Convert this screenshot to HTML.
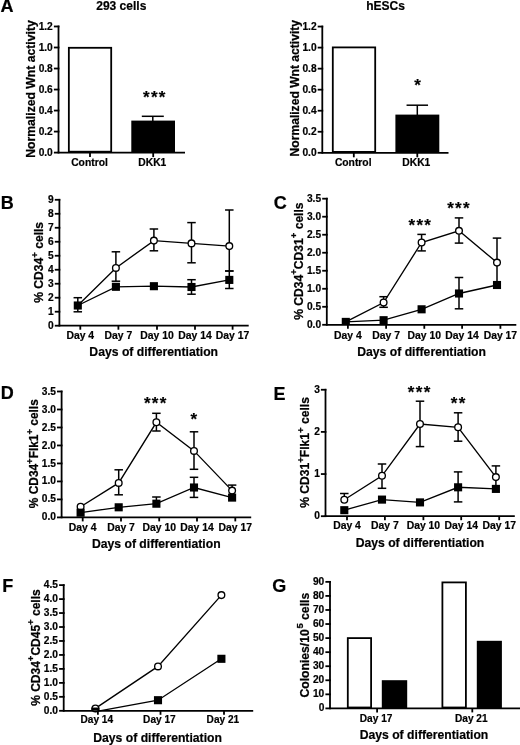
<!DOCTYPE html>
<html><head><meta charset="utf-8"><title>Figure</title>
<style>
html,body{margin:0;padding:0;background:#fff;}
body{width:520px;height:745px;overflow:hidden;}
svg{display:block;filter:blur(0.3px);}
text{font-family:"Liberation Sans", sans-serif;fill:#000;stroke:#000;stroke-width:0.2px;}
.tl{stroke:#000;stroke-width:0.2px;}
.yl{stroke:#000;stroke-width:0.25px;}
</style></head>
<body>
<svg width="520" height="745" viewBox="0 0 520 745" stroke="#000" fill="#000">
<rect x="0" y="0" width="520" height="745" fill="#fff" stroke="none"/>
<text x="0.4" y="12.3" font-size="18" text-anchor="start" font-weight="bold" >A</text>
<text x="0.85" y="209.3" font-size="18" text-anchor="start" font-weight="bold" >B</text>
<text x="273.8" y="209.2" font-size="18" text-anchor="start" font-weight="bold" >C</text>
<text x="0.85" y="398.9" font-size="18" text-anchor="start" font-weight="bold" >D</text>
<text x="273.6" y="399.6" font-size="18" text-anchor="start" font-weight="bold" >E</text>
<text x="2.2" y="592.2" font-size="18" text-anchor="start" font-weight="bold" >F</text>
<text x="272.2" y="591.8" font-size="18" text-anchor="start" font-weight="bold" >G</text>
<text x="121.3" y="9.9" font-size="12" text-anchor="middle" font-weight="bold" >293 cells</text>
<line x1="58.5" y1="25.58" x2="58.5" y2="152.6" stroke-width="1.8" stroke-linecap="butt"/>
<line x1="53.9" y1="152.6" x2="59.4" y2="152.6" stroke-width="1.8" stroke-linecap="butt"/>
<text x="52.8" y="155.66" font-size="10.2" text-anchor="end" font-weight="bold" class="tl">0.0</text>
<line x1="53.9" y1="131.58" x2="59.4" y2="131.58" stroke-width="1.8" stroke-linecap="butt"/>
<text x="52.8" y="134.64" font-size="10.2" text-anchor="end" font-weight="bold" class="tl">0.2</text>
<line x1="53.9" y1="110.56" x2="59.4" y2="110.56" stroke-width="1.8" stroke-linecap="butt"/>
<text x="52.8" y="113.62" font-size="10.2" text-anchor="end" font-weight="bold" class="tl">0.4</text>
<line x1="53.9" y1="89.54" x2="59.4" y2="89.54" stroke-width="1.8" stroke-linecap="butt"/>
<text x="52.8" y="92.6" font-size="10.2" text-anchor="end" font-weight="bold" class="tl">0.6</text>
<line x1="53.9" y1="68.52" x2="59.4" y2="68.52" stroke-width="1.8" stroke-linecap="butt"/>
<text x="52.8" y="71.58" font-size="10.2" text-anchor="end" font-weight="bold" class="tl">0.8</text>
<line x1="53.9" y1="47.5" x2="59.4" y2="47.5" stroke-width="1.8" stroke-linecap="butt"/>
<text x="52.8" y="50.56" font-size="10.2" text-anchor="end" font-weight="bold" class="tl">1.0</text>
<line x1="53.9" y1="26.48" x2="59.4" y2="26.48" stroke-width="1.8" stroke-linecap="butt"/>
<text x="52.8" y="29.54" font-size="10.2" text-anchor="end" font-weight="bold" class="tl">1.2</text>
<rect x="68.85" y="47.8" width="42.35" height="103.9" fill="#fff" stroke-width="1.8"/>
<rect x="131.3" y="120.6" width="43.7" height="32" fill="#000" stroke="none"/>
<line x1="152.8" y1="121" x2="152.8" y2="116.3" stroke-width="1.5" stroke-linecap="butt"/>
<line x1="141.8" y1="116.3" x2="163.8" y2="116.3" stroke-width="1.5" stroke-linecap="butt"/>
<line x1="57.6" y1="152.6" x2="185" y2="152.6" stroke-width="1.8" stroke-linecap="butt"/>
<line x1="90" y1="152.6" x2="90" y2="157.1" stroke-width="1.8" stroke-linecap="butt"/>
<line x1="153.2" y1="152.6" x2="153.2" y2="157.1" stroke-width="1.8" stroke-linecap="butt"/>
<text x="89.5" y="165.6" font-size="10.3" text-anchor="middle" font-weight="bold" class="tl">Control</text>
<text x="152.3" y="165.6" font-size="10.3" text-anchor="middle" font-weight="bold" class="tl">DKK1</text>
<text x="146.3" y="103.33" font-size="17" text-anchor="middle" font-weight="bold" >*</text>
<text x="154.2" y="103.33" font-size="17" text-anchor="middle" font-weight="bold" >*</text>
<text x="162.1" y="103.33" font-size="17" text-anchor="middle" font-weight="bold" >*</text>
<text class="yl" transform="translate(35.1,89) rotate(-90)" x="0" y="0" font-size="12.2" text-anchor="middle" font-weight="bold" >Normalized Wnt activity</text>
<text x="385.5" y="9.9" font-size="12" text-anchor="middle" font-weight="bold" >hESCs</text>
<line x1="322.3" y1="25.66" x2="322.3" y2="152.8" stroke-width="1.8" stroke-linecap="butt"/>
<line x1="317.7" y1="152.8" x2="323.2" y2="152.8" stroke-width="1.8" stroke-linecap="butt"/>
<text x="316.6" y="155.86" font-size="10.2" text-anchor="end" font-weight="bold" class="tl">0.0</text>
<line x1="317.7" y1="131.76" x2="323.2" y2="131.76" stroke-width="1.8" stroke-linecap="butt"/>
<text x="316.6" y="134.82" font-size="10.2" text-anchor="end" font-weight="bold" class="tl">0.2</text>
<line x1="317.7" y1="110.72" x2="323.2" y2="110.72" stroke-width="1.8" stroke-linecap="butt"/>
<text x="316.6" y="113.78" font-size="10.2" text-anchor="end" font-weight="bold" class="tl">0.4</text>
<line x1="317.7" y1="89.68" x2="323.2" y2="89.68" stroke-width="1.8" stroke-linecap="butt"/>
<text x="316.6" y="92.74" font-size="10.2" text-anchor="end" font-weight="bold" class="tl">0.6</text>
<line x1="317.7" y1="68.64" x2="323.2" y2="68.64" stroke-width="1.8" stroke-linecap="butt"/>
<text x="316.6" y="71.7" font-size="10.2" text-anchor="end" font-weight="bold" class="tl">0.8</text>
<line x1="317.7" y1="47.6" x2="323.2" y2="47.6" stroke-width="1.8" stroke-linecap="butt"/>
<text x="316.6" y="50.66" font-size="10.2" text-anchor="end" font-weight="bold" class="tl">1.0</text>
<line x1="317.7" y1="26.56" x2="323.2" y2="26.56" stroke-width="1.8" stroke-linecap="butt"/>
<text x="316.6" y="29.62" font-size="10.2" text-anchor="end" font-weight="bold" class="tl">1.2</text>
<rect x="332.8" y="47.4" width="42.4" height="104.5" fill="#fff" stroke-width="1.8"/>
<rect x="395.4" y="114.6" width="43.9" height="38.2" fill="#000" stroke="none"/>
<line x1="417.3" y1="115" x2="417.3" y2="105.2" stroke-width="1.5" stroke-linecap="butt"/>
<line x1="406.55" y1="105.2" x2="428.05" y2="105.2" stroke-width="1.5" stroke-linecap="butt"/>
<line x1="321.4" y1="152.8" x2="448.5" y2="152.8" stroke-width="1.8" stroke-linecap="butt"/>
<line x1="353.8" y1="152.8" x2="353.8" y2="157.3" stroke-width="1.8" stroke-linecap="butt"/>
<line x1="417.3" y1="152.8" x2="417.3" y2="157.3" stroke-width="1.8" stroke-linecap="butt"/>
<text x="353.2" y="165.6" font-size="10.3" text-anchor="middle" font-weight="bold" class="tl">Control</text>
<text x="416.3" y="165.6" font-size="10.3" text-anchor="middle" font-weight="bold" class="tl">DKK1</text>
<text x="417.6" y="91.43" font-size="17" text-anchor="middle" font-weight="bold" >*</text>
<text class="yl" transform="translate(298.6,88.2) rotate(-90)" x="0" y="0" font-size="12.1" text-anchor="middle" font-weight="bold" >Normalized Wnt activity</text>
<line x1="59.4" y1="198.89" x2="59.4" y2="325.7" stroke-width="1.8" stroke-linecap="butt"/>
<line x1="54.8" y1="325.7" x2="60.3" y2="325.7" stroke-width="1.8" stroke-linecap="butt"/>
<text x="53.7" y="328.76" font-size="10.2" text-anchor="end" font-weight="bold" class="tl">0</text>
<line x1="54.8" y1="311.71" x2="60.3" y2="311.71" stroke-width="1.8" stroke-linecap="butt"/>
<text x="53.7" y="314.77" font-size="10.2" text-anchor="end" font-weight="bold" class="tl">1</text>
<line x1="54.8" y1="297.72" x2="60.3" y2="297.72" stroke-width="1.8" stroke-linecap="butt"/>
<text x="53.7" y="300.78" font-size="10.2" text-anchor="end" font-weight="bold" class="tl">2</text>
<line x1="54.8" y1="283.73" x2="60.3" y2="283.73" stroke-width="1.8" stroke-linecap="butt"/>
<text x="53.7" y="286.79" font-size="10.2" text-anchor="end" font-weight="bold" class="tl">3</text>
<line x1="54.8" y1="269.74" x2="60.3" y2="269.74" stroke-width="1.8" stroke-linecap="butt"/>
<text x="53.7" y="272.8" font-size="10.2" text-anchor="end" font-weight="bold" class="tl">4</text>
<line x1="54.8" y1="255.75" x2="60.3" y2="255.75" stroke-width="1.8" stroke-linecap="butt"/>
<text x="53.7" y="258.81" font-size="10.2" text-anchor="end" font-weight="bold" class="tl">5</text>
<line x1="54.8" y1="241.76" x2="60.3" y2="241.76" stroke-width="1.8" stroke-linecap="butt"/>
<text x="53.7" y="244.82" font-size="10.2" text-anchor="end" font-weight="bold" class="tl">6</text>
<line x1="54.8" y1="227.77" x2="60.3" y2="227.77" stroke-width="1.8" stroke-linecap="butt"/>
<text x="53.7" y="230.83" font-size="10.2" text-anchor="end" font-weight="bold" class="tl">7</text>
<line x1="54.8" y1="213.78" x2="60.3" y2="213.78" stroke-width="1.8" stroke-linecap="butt"/>
<text x="53.7" y="216.84" font-size="10.2" text-anchor="end" font-weight="bold" class="tl">8</text>
<line x1="54.8" y1="199.79" x2="60.3" y2="199.79" stroke-width="1.8" stroke-linecap="butt"/>
<text x="53.7" y="202.85" font-size="10.2" text-anchor="end" font-weight="bold" class="tl">9</text>
<line x1="58.5" y1="325.7" x2="248.7" y2="325.7" stroke-width="1.8" stroke-linecap="butt"/>
<line x1="80.3" y1="325.7" x2="80.3" y2="329.7" stroke-width="1.8" stroke-linecap="butt"/>
<text x="80.3" y="338.8" font-size="10.4" text-anchor="middle" font-weight="bold" class="tl">Day 4</text>
<line x1="118.4" y1="325.7" x2="118.4" y2="329.7" stroke-width="1.8" stroke-linecap="butt"/>
<text x="118.4" y="338.8" font-size="10.4" text-anchor="middle" font-weight="bold" class="tl">Day 7</text>
<line x1="157" y1="325.7" x2="157" y2="329.7" stroke-width="1.8" stroke-linecap="butt"/>
<text x="157" y="338.8" font-size="10.4" text-anchor="middle" font-weight="bold" class="tl">Day 10</text>
<line x1="195" y1="325.7" x2="195" y2="329.7" stroke-width="1.8" stroke-linecap="butt"/>
<text x="195" y="338.8" font-size="10.4" text-anchor="middle" font-weight="bold" class="tl">Day 14</text>
<line x1="232.6" y1="325.7" x2="232.6" y2="329.7" stroke-width="1.8" stroke-linecap="butt"/>
<text x="232.6" y="338.8" font-size="10.4" text-anchor="middle" font-weight="bold" class="tl">Day 17</text>
<line x1="115.9" y1="267.9" x2="115.9" y2="251.8" stroke-width="1.5" stroke-linecap="butt"/>
<line x1="111.65" y1="251.8" x2="120.15" y2="251.8" stroke-width="1.5" stroke-linecap="butt"/>
<line x1="115.9" y1="267.9" x2="115.9" y2="281.2" stroke-width="1.5" stroke-linecap="butt"/>
<line x1="111.65" y1="281.2" x2="120.15" y2="281.2" stroke-width="1.5" stroke-linecap="butt"/>
<line x1="153.9" y1="240.6" x2="153.9" y2="229" stroke-width="1.5" stroke-linecap="butt"/>
<line x1="149.65" y1="229" x2="158.15" y2="229" stroke-width="1.5" stroke-linecap="butt"/>
<line x1="153.9" y1="240.6" x2="153.9" y2="250.8" stroke-width="1.5" stroke-linecap="butt"/>
<line x1="149.65" y1="250.8" x2="158.15" y2="250.8" stroke-width="1.5" stroke-linecap="butt"/>
<line x1="191.5" y1="243.4" x2="191.5" y2="222.6" stroke-width="1.5" stroke-linecap="butt"/>
<line x1="187.25" y1="222.6" x2="195.75" y2="222.6" stroke-width="1.5" stroke-linecap="butt"/>
<line x1="191.5" y1="243.4" x2="191.5" y2="262.8" stroke-width="1.5" stroke-linecap="butt"/>
<line x1="187.25" y1="262.8" x2="195.75" y2="262.8" stroke-width="1.5" stroke-linecap="butt"/>
<line x1="229.3" y1="246.1" x2="229.3" y2="210" stroke-width="1.5" stroke-linecap="butt"/>
<line x1="225.05" y1="210" x2="233.55" y2="210" stroke-width="1.5" stroke-linecap="butt"/>
<line x1="229.3" y1="246.1" x2="229.3" y2="271" stroke-width="1.5" stroke-linecap="butt"/>
<line x1="225.05" y1="271" x2="233.55" y2="271" stroke-width="1.5" stroke-linecap="butt"/>
<line x1="77.8" y1="305.5" x2="77.8" y2="297.7" stroke-width="1.5" stroke-linecap="butt"/>
<line x1="73.55" y1="297.7" x2="82.05" y2="297.7" stroke-width="1.5" stroke-linecap="butt"/>
<line x1="77.8" y1="305.5" x2="77.8" y2="311.8" stroke-width="1.5" stroke-linecap="butt"/>
<line x1="73.55" y1="311.8" x2="82.05" y2="311.8" stroke-width="1.5" stroke-linecap="butt"/>
<line x1="191.5" y1="287" x2="191.5" y2="279.7" stroke-width="1.5" stroke-linecap="butt"/>
<line x1="187.25" y1="279.7" x2="195.75" y2="279.7" stroke-width="1.5" stroke-linecap="butt"/>
<line x1="191.5" y1="287" x2="191.5" y2="294.2" stroke-width="1.5" stroke-linecap="butt"/>
<line x1="187.25" y1="294.2" x2="195.75" y2="294.2" stroke-width="1.5" stroke-linecap="butt"/>
<line x1="229.3" y1="279.9" x2="229.3" y2="271" stroke-width="1.5" stroke-linecap="butt"/>
<line x1="225.05" y1="271" x2="233.55" y2="271" stroke-width="1.5" stroke-linecap="butt"/>
<line x1="229.3" y1="279.9" x2="229.3" y2="288.5" stroke-width="1.5" stroke-linecap="butt"/>
<line x1="225.05" y1="288.5" x2="233.55" y2="288.5" stroke-width="1.5" stroke-linecap="butt"/>
<polyline points="77.8,305.5 115.9,286.8 153.9,286.2 191.5,287 229.3,279.9" fill="none" stroke-width="1.35"/>
<polyline points="77.8,305.5 115.9,267.9 153.9,240.6 191.5,243.4 229.3,246.1" fill="none" stroke-width="1.35"/>
<circle cx="115.9" cy="267.9" r="3.35" fill="#fff" stroke-width="1.35"/>
<circle cx="153.9" cy="240.6" r="3.35" fill="#fff" stroke-width="1.35"/>
<circle cx="191.5" cy="243.4" r="3.35" fill="#fff" stroke-width="1.35"/>
<circle cx="229.3" cy="246.1" r="3.35" fill="#fff" stroke-width="1.35"/>
<rect x="73.75" y="301.45" width="8.1" height="8.1" fill="#000" stroke="none"/>
<rect x="111.85" y="282.75" width="8.1" height="8.1" fill="#000" stroke="none"/>
<rect x="149.85" y="282.15" width="8.1" height="8.1" fill="#000" stroke="none"/>
<rect x="187.45" y="282.95" width="8.1" height="8.1" fill="#000" stroke="none"/>
<rect x="225.25" y="275.85" width="8.1" height="8.1" fill="#000" stroke="none"/>
<text x="153.7" y="356" font-size="12.2" text-anchor="middle" font-weight="bold" >Days of differentiation</text>
<text class="yl" transform="translate(43.3,262.35) rotate(-90)" x="0" y="0" font-size="12.1" text-anchor="middle" font-weight="bold" >% CD34<tspan font-size="9.5" dy="-5.8">+</tspan><tspan dy="5.8"> cells</tspan></text>
<line x1="326.8" y1="197.79" x2="326.8" y2="324.8" stroke-width="1.8" stroke-linecap="butt"/>
<line x1="322.2" y1="324.8" x2="327.7" y2="324.8" stroke-width="1.8" stroke-linecap="butt"/>
<text x="321.1" y="327.86" font-size="10.2" text-anchor="end" font-weight="bold" class="tl">0.0</text>
<line x1="322.2" y1="306.79" x2="327.7" y2="306.79" stroke-width="1.8" stroke-linecap="butt"/>
<text x="321.1" y="309.85" font-size="10.2" text-anchor="end" font-weight="bold" class="tl">0.5</text>
<line x1="322.2" y1="288.77" x2="327.7" y2="288.77" stroke-width="1.8" stroke-linecap="butt"/>
<text x="321.1" y="291.83" font-size="10.2" text-anchor="end" font-weight="bold" class="tl">1.0</text>
<line x1="322.2" y1="270.75" x2="327.7" y2="270.75" stroke-width="1.8" stroke-linecap="butt"/>
<text x="321.1" y="273.81" font-size="10.2" text-anchor="end" font-weight="bold" class="tl">1.5</text>
<line x1="322.2" y1="252.74" x2="327.7" y2="252.74" stroke-width="1.8" stroke-linecap="butt"/>
<text x="321.1" y="255.8" font-size="10.2" text-anchor="end" font-weight="bold" class="tl">2.0</text>
<line x1="322.2" y1="234.73" x2="327.7" y2="234.73" stroke-width="1.8" stroke-linecap="butt"/>
<text x="321.1" y="237.79" font-size="10.2" text-anchor="end" font-weight="bold" class="tl">2.5</text>
<line x1="322.2" y1="216.71" x2="327.7" y2="216.71" stroke-width="1.8" stroke-linecap="butt"/>
<text x="321.1" y="219.77" font-size="10.2" text-anchor="end" font-weight="bold" class="tl">3.0</text>
<line x1="322.2" y1="198.69" x2="327.7" y2="198.69" stroke-width="1.8" stroke-linecap="butt"/>
<text x="321.1" y="201.75" font-size="10.2" text-anchor="end" font-weight="bold" class="tl">3.5</text>
<line x1="325.9" y1="324.8" x2="516.3" y2="324.8" stroke-width="1.8" stroke-linecap="butt"/>
<line x1="347.9" y1="324.8" x2="347.9" y2="328.8" stroke-width="1.8" stroke-linecap="butt"/>
<text x="347.9" y="338.6" font-size="10.4" text-anchor="middle" font-weight="bold" class="tl">Day 4</text>
<line x1="386.1" y1="324.8" x2="386.1" y2="328.8" stroke-width="1.8" stroke-linecap="butt"/>
<text x="386.1" y="338.6" font-size="10.4" text-anchor="middle" font-weight="bold" class="tl">Day 7</text>
<line x1="424.3" y1="324.8" x2="424.3" y2="328.8" stroke-width="1.8" stroke-linecap="butt"/>
<text x="424.3" y="338.6" font-size="10.4" text-anchor="middle" font-weight="bold" class="tl">Day 10</text>
<line x1="462.1" y1="324.8" x2="462.1" y2="328.8" stroke-width="1.8" stroke-linecap="butt"/>
<text x="462.1" y="338.6" font-size="10.4" text-anchor="middle" font-weight="bold" class="tl">Day 14</text>
<line x1="500.4" y1="324.8" x2="500.4" y2="328.8" stroke-width="1.8" stroke-linecap="butt"/>
<text x="500.4" y="338.6" font-size="10.4" text-anchor="middle" font-weight="bold" class="tl">Day 17</text>
<line x1="383.6" y1="302.5" x2="383.6" y2="296.7" stroke-width="1.5" stroke-linecap="butt"/>
<line x1="379.35" y1="296.7" x2="387.85" y2="296.7" stroke-width="1.5" stroke-linecap="butt"/>
<line x1="383.6" y1="302.5" x2="383.6" y2="307.3" stroke-width="1.5" stroke-linecap="butt"/>
<line x1="379.35" y1="307.3" x2="387.85" y2="307.3" stroke-width="1.5" stroke-linecap="butt"/>
<line x1="421.6" y1="242.5" x2="421.6" y2="234.4" stroke-width="1.5" stroke-linecap="butt"/>
<line x1="417.35" y1="234.4" x2="425.85" y2="234.4" stroke-width="1.5" stroke-linecap="butt"/>
<line x1="421.6" y1="242.5" x2="421.6" y2="250.9" stroke-width="1.5" stroke-linecap="butt"/>
<line x1="417.35" y1="250.9" x2="425.85" y2="250.9" stroke-width="1.5" stroke-linecap="butt"/>
<line x1="459" y1="230.8" x2="459" y2="217.9" stroke-width="1.5" stroke-linecap="butt"/>
<line x1="454.75" y1="217.9" x2="463.25" y2="217.9" stroke-width="1.5" stroke-linecap="butt"/>
<line x1="459" y1="230.8" x2="459" y2="243.1" stroke-width="1.5" stroke-linecap="butt"/>
<line x1="454.75" y1="243.1" x2="463.25" y2="243.1" stroke-width="1.5" stroke-linecap="butt"/>
<line x1="497" y1="262.6" x2="497" y2="238.1" stroke-width="1.5" stroke-linecap="butt"/>
<line x1="492.75" y1="238.1" x2="501.25" y2="238.1" stroke-width="1.5" stroke-linecap="butt"/>
<line x1="497" y1="262.6" x2="497" y2="285" stroke-width="1.5" stroke-linecap="butt"/>
<line x1="459" y1="293.5" x2="459" y2="277.5" stroke-width="1.5" stroke-linecap="butt"/>
<line x1="454.75" y1="277.5" x2="463.25" y2="277.5" stroke-width="1.5" stroke-linecap="butt"/>
<line x1="459" y1="293.5" x2="459" y2="308.8" stroke-width="1.5" stroke-linecap="butt"/>
<line x1="454.75" y1="308.8" x2="463.25" y2="308.8" stroke-width="1.5" stroke-linecap="butt"/>
<polyline points="345.8,321.9 383.6,320.2 421.6,309.3 459,293.5 497,285" fill="none" stroke-width="1.35"/>
<polyline points="345.8,321.9 383.6,302.5 421.6,242.5 459,230.8 497,262.6" fill="none" stroke-width="1.35"/>
<circle cx="383.6" cy="302.5" r="3.35" fill="#fff" stroke-width="1.35"/>
<circle cx="421.6" cy="242.5" r="3.35" fill="#fff" stroke-width="1.35"/>
<circle cx="459" cy="230.8" r="3.35" fill="#fff" stroke-width="1.35"/>
<circle cx="497" cy="262.6" r="3.35" fill="#fff" stroke-width="1.35"/>
<rect x="341.75" y="317.85" width="8.1" height="6.95" fill="#000" stroke="none"/>
<rect x="379.55" y="316.15" width="8.1" height="8.1" fill="#000" stroke="none"/>
<rect x="417.55" y="305.25" width="8.1" height="8.1" fill="#000" stroke="none"/>
<rect x="454.95" y="289.45" width="8.1" height="8.1" fill="#000" stroke="none"/>
<rect x="492.95" y="280.95" width="8.1" height="8.1" fill="#000" stroke="none"/>
<text x="421.6" y="355.6" font-size="12.2" text-anchor="middle" font-weight="bold" >Days of differentiation</text>
<text class="yl" transform="translate(303.2,261.1) rotate(-90)" x="0" y="0" font-size="12.1" text-anchor="middle" font-weight="bold" >% CD34<tspan font-size="9.5" dy="-5.8">+</tspan><tspan dy="5.8">CD31<tspan font-size="9.5" dy="-5.8">+</tspan><tspan dy="5.8"> cells</tspan></tspan></text>
<text x="411.85" y="231.33" font-size="17" text-anchor="middle" font-weight="bold" >*</text>
<text x="419.75" y="231.33" font-size="17" text-anchor="middle" font-weight="bold" >*</text>
<text x="427.65" y="231.33" font-size="17" text-anchor="middle" font-weight="bold" >*</text>
<text x="450.45" y="213.83" font-size="17" text-anchor="middle" font-weight="bold" >*</text>
<text x="458.35" y="213.83" font-size="17" text-anchor="middle" font-weight="bold" >*</text>
<text x="466.25" y="213.83" font-size="17" text-anchor="middle" font-weight="bold" >*</text>
<line x1="61.6" y1="390.61" x2="61.6" y2="517.4" stroke-width="1.8" stroke-linecap="butt"/>
<line x1="57" y1="517.4" x2="62.5" y2="517.4" stroke-width="1.8" stroke-linecap="butt"/>
<text x="55.9" y="520.46" font-size="10.2" text-anchor="end" font-weight="bold" class="tl">0.0</text>
<line x1="57" y1="499.41" x2="62.5" y2="499.41" stroke-width="1.8" stroke-linecap="butt"/>
<text x="55.9" y="502.47" font-size="10.2" text-anchor="end" font-weight="bold" class="tl">0.5</text>
<line x1="57" y1="481.43" x2="62.5" y2="481.43" stroke-width="1.8" stroke-linecap="butt"/>
<text x="55.9" y="484.49" font-size="10.2" text-anchor="end" font-weight="bold" class="tl">1.0</text>
<line x1="57" y1="463.44" x2="62.5" y2="463.44" stroke-width="1.8" stroke-linecap="butt"/>
<text x="55.9" y="466.5" font-size="10.2" text-anchor="end" font-weight="bold" class="tl">1.5</text>
<line x1="57" y1="445.46" x2="62.5" y2="445.46" stroke-width="1.8" stroke-linecap="butt"/>
<text x="55.9" y="448.52" font-size="10.2" text-anchor="end" font-weight="bold" class="tl">2.0</text>
<line x1="57" y1="427.47" x2="62.5" y2="427.47" stroke-width="1.8" stroke-linecap="butt"/>
<text x="55.9" y="430.53" font-size="10.2" text-anchor="end" font-weight="bold" class="tl">2.5</text>
<line x1="57" y1="409.49" x2="62.5" y2="409.49" stroke-width="1.8" stroke-linecap="butt"/>
<text x="55.9" y="412.55" font-size="10.2" text-anchor="end" font-weight="bold" class="tl">3.0</text>
<line x1="57" y1="391.5" x2="62.5" y2="391.5" stroke-width="1.8" stroke-linecap="butt"/>
<text x="55.9" y="394.56" font-size="10.2" text-anchor="end" font-weight="bold" class="tl">3.5</text>
<line x1="60.7" y1="517.4" x2="251.2" y2="517.4" stroke-width="1.8" stroke-linecap="butt"/>
<line x1="82.7" y1="517.4" x2="82.7" y2="521.4" stroke-width="1.8" stroke-linecap="butt"/>
<text x="82.7" y="530.8" font-size="10.4" text-anchor="middle" font-weight="bold" class="tl">Day 4</text>
<line x1="121" y1="517.4" x2="121" y2="521.4" stroke-width="1.8" stroke-linecap="butt"/>
<text x="121" y="530.8" font-size="10.4" text-anchor="middle" font-weight="bold" class="tl">Day 7</text>
<line x1="159.2" y1="517.4" x2="159.2" y2="521.4" stroke-width="1.8" stroke-linecap="butt"/>
<text x="159.2" y="530.8" font-size="10.4" text-anchor="middle" font-weight="bold" class="tl">Day 10</text>
<line x1="197" y1="517.4" x2="197" y2="521.4" stroke-width="1.8" stroke-linecap="butt"/>
<text x="197" y="530.8" font-size="10.4" text-anchor="middle" font-weight="bold" class="tl">Day 14</text>
<line x1="235.3" y1="517.4" x2="235.3" y2="521.4" stroke-width="1.8" stroke-linecap="butt"/>
<text x="235.3" y="530.8" font-size="10.4" text-anchor="middle" font-weight="bold" class="tl">Day 17</text>
<line x1="118.7" y1="482.9" x2="118.7" y2="469.8" stroke-width="1.5" stroke-linecap="butt"/>
<line x1="114.45" y1="469.8" x2="122.95" y2="469.8" stroke-width="1.5" stroke-linecap="butt"/>
<line x1="118.7" y1="482.9" x2="118.7" y2="494.8" stroke-width="1.5" stroke-linecap="butt"/>
<line x1="114.45" y1="494.8" x2="122.95" y2="494.8" stroke-width="1.5" stroke-linecap="butt"/>
<line x1="156.4" y1="422.3" x2="156.4" y2="413.3" stroke-width="1.5" stroke-linecap="butt"/>
<line x1="152.15" y1="413.3" x2="160.65" y2="413.3" stroke-width="1.5" stroke-linecap="butt"/>
<line x1="156.4" y1="422.3" x2="156.4" y2="431" stroke-width="1.5" stroke-linecap="butt"/>
<line x1="152.15" y1="431" x2="160.65" y2="431" stroke-width="1.5" stroke-linecap="butt"/>
<line x1="194" y1="450.9" x2="194" y2="431.8" stroke-width="1.5" stroke-linecap="butt"/>
<line x1="189.75" y1="431.8" x2="198.25" y2="431.8" stroke-width="1.5" stroke-linecap="butt"/>
<line x1="194" y1="450.9" x2="194" y2="469.3" stroke-width="1.5" stroke-linecap="butt"/>
<line x1="189.75" y1="469.3" x2="198.25" y2="469.3" stroke-width="1.5" stroke-linecap="butt"/>
<line x1="232.1" y1="490.6" x2="232.1" y2="485.1" stroke-width="1.5" stroke-linecap="butt"/>
<line x1="227.85" y1="485.1" x2="236.35" y2="485.1" stroke-width="1.5" stroke-linecap="butt"/>
<line x1="156.4" y1="503.7" x2="156.4" y2="497" stroke-width="1.5" stroke-linecap="butt"/>
<line x1="152.15" y1="497" x2="160.65" y2="497" stroke-width="1.5" stroke-linecap="butt"/>
<line x1="194" y1="487.5" x2="194" y2="477.3" stroke-width="1.5" stroke-linecap="butt"/>
<line x1="189.75" y1="477.3" x2="198.25" y2="477.3" stroke-width="1.5" stroke-linecap="butt"/>
<line x1="194" y1="487.5" x2="194" y2="497.4" stroke-width="1.5" stroke-linecap="butt"/>
<line x1="189.75" y1="497.4" x2="198.25" y2="497.4" stroke-width="1.5" stroke-linecap="butt"/>
<polyline points="80.6,512.7 118.7,507.3 156.4,503.7 194,487.5 232.1,497.6" fill="none" stroke-width="1.35"/>
<polyline points="80.6,506.8 118.7,482.9 156.4,422.3 194,450.9 232.1,490.6" fill="none" stroke-width="1.35"/>
<circle cx="80.6" cy="506.8" r="3.35" fill="#fff" stroke-width="1.35"/>
<circle cx="118.7" cy="482.9" r="3.35" fill="#fff" stroke-width="1.35"/>
<circle cx="156.4" cy="422.3" r="3.35" fill="#fff" stroke-width="1.35"/>
<circle cx="194" cy="450.9" r="3.35" fill="#fff" stroke-width="1.35"/>
<circle cx="232.1" cy="490.6" r="3.35" fill="#fff" stroke-width="1.35"/>
<rect x="76.55" y="508.65" width="8.1" height="8.1" fill="#000" stroke="none"/>
<rect x="114.65" y="503.25" width="8.1" height="8.1" fill="#000" stroke="none"/>
<rect x="152.35" y="499.65" width="8.1" height="8.1" fill="#000" stroke="none"/>
<rect x="189.95" y="483.45" width="8.1" height="8.1" fill="#000" stroke="none"/>
<rect x="228.05" y="493.55" width="8.1" height="8.1" fill="#000" stroke="none"/>
<text x="156.3" y="547.7" font-size="12.2" text-anchor="middle" font-weight="bold" >Days of differentiation</text>
<text class="yl" transform="translate(38.4,453.7) rotate(-90)" x="0" y="0" font-size="11.9" text-anchor="middle" font-weight="bold" >% CD34<tspan font-size="9.5" dy="-5.8">+</tspan><tspan dy="5.8">Flk1<tspan font-size="9.5" dy="-5.8">+</tspan><tspan dy="5.8"> cells</tspan></tspan></text>
<text x="147.2" y="409.13" font-size="17" text-anchor="middle" font-weight="bold" >*</text>
<text x="155.1" y="409.13" font-size="17" text-anchor="middle" font-weight="bold" >*</text>
<text x="163" y="409.13" font-size="17" text-anchor="middle" font-weight="bold" >*</text>
<text x="193.9" y="425.43" font-size="17" text-anchor="middle" font-weight="bold" >*</text>
<line x1="325.5" y1="388.85" x2="325.5" y2="516.2" stroke-width="1.8" stroke-linecap="butt"/>
<line x1="320.9" y1="516.2" x2="326.4" y2="516.2" stroke-width="1.8" stroke-linecap="butt"/>
<text x="320" y="519.26" font-size="10.2" text-anchor="end" font-weight="bold" class="tl">0</text>
<line x1="320.9" y1="474.05" x2="326.4" y2="474.05" stroke-width="1.8" stroke-linecap="butt"/>
<text x="320" y="477.11" font-size="10.2" text-anchor="end" font-weight="bold" class="tl">1</text>
<line x1="320.9" y1="431.9" x2="326.4" y2="431.9" stroke-width="1.8" stroke-linecap="butt"/>
<text x="320" y="434.96" font-size="10.2" text-anchor="end" font-weight="bold" class="tl">2</text>
<line x1="320.9" y1="389.75" x2="326.4" y2="389.75" stroke-width="1.8" stroke-linecap="butt"/>
<text x="320" y="392.81" font-size="10.2" text-anchor="end" font-weight="bold" class="tl">3</text>
<line x1="324.6" y1="516.2" x2="514.8" y2="516.2" stroke-width="1.8" stroke-linecap="butt"/>
<line x1="347" y1="516.2" x2="347" y2="520.2" stroke-width="1.8" stroke-linecap="butt"/>
<text x="347" y="529.4" font-size="10.4" text-anchor="middle" font-weight="bold" class="tl">Day 4</text>
<line x1="384.9" y1="516.2" x2="384.9" y2="520.2" stroke-width="1.8" stroke-linecap="butt"/>
<text x="384.9" y="529.4" font-size="10.4" text-anchor="middle" font-weight="bold" class="tl">Day 7</text>
<line x1="423.4" y1="516.2" x2="423.4" y2="520.2" stroke-width="1.8" stroke-linecap="butt"/>
<text x="423.4" y="529.4" font-size="10.4" text-anchor="middle" font-weight="bold" class="tl">Day 10</text>
<line x1="461.2" y1="516.2" x2="461.2" y2="520.2" stroke-width="1.8" stroke-linecap="butt"/>
<text x="461.2" y="529.4" font-size="10.4" text-anchor="middle" font-weight="bold" class="tl">Day 14</text>
<line x1="499.2" y1="516.2" x2="499.2" y2="520.2" stroke-width="1.8" stroke-linecap="butt"/>
<text x="499.2" y="529.4" font-size="10.4" text-anchor="middle" font-weight="bold" class="tl">Day 17</text>
<line x1="344.3" y1="499.8" x2="344.3" y2="493.5" stroke-width="1.5" stroke-linecap="butt"/>
<line x1="340.05" y1="493.5" x2="348.55" y2="493.5" stroke-width="1.5" stroke-linecap="butt"/>
<line x1="382" y1="475.8" x2="382" y2="464" stroke-width="1.5" stroke-linecap="butt"/>
<line x1="377.75" y1="464" x2="386.25" y2="464" stroke-width="1.5" stroke-linecap="butt"/>
<line x1="382" y1="475.8" x2="382" y2="488.3" stroke-width="1.5" stroke-linecap="butt"/>
<line x1="377.75" y1="488.3" x2="386.25" y2="488.3" stroke-width="1.5" stroke-linecap="butt"/>
<line x1="420" y1="424" x2="420" y2="401.2" stroke-width="1.5" stroke-linecap="butt"/>
<line x1="415.75" y1="401.2" x2="424.25" y2="401.2" stroke-width="1.5" stroke-linecap="butt"/>
<line x1="420" y1="424" x2="420" y2="446.6" stroke-width="1.5" stroke-linecap="butt"/>
<line x1="415.75" y1="446.6" x2="424.25" y2="446.6" stroke-width="1.5" stroke-linecap="butt"/>
<line x1="458.1" y1="427.3" x2="458.1" y2="412.8" stroke-width="1.5" stroke-linecap="butt"/>
<line x1="453.85" y1="412.8" x2="462.35" y2="412.8" stroke-width="1.5" stroke-linecap="butt"/>
<line x1="458.1" y1="427.3" x2="458.1" y2="441.2" stroke-width="1.5" stroke-linecap="butt"/>
<line x1="453.85" y1="441.2" x2="462.35" y2="441.2" stroke-width="1.5" stroke-linecap="butt"/>
<line x1="495.9" y1="477.1" x2="495.9" y2="465.9" stroke-width="1.5" stroke-linecap="butt"/>
<line x1="491.65" y1="465.9" x2="500.15" y2="465.9" stroke-width="1.5" stroke-linecap="butt"/>
<line x1="495.9" y1="477.1" x2="495.9" y2="486" stroke-width="1.5" stroke-linecap="butt"/>
<line x1="458.1" y1="487.3" x2="458.1" y2="471.9" stroke-width="1.5" stroke-linecap="butt"/>
<line x1="453.85" y1="471.9" x2="462.35" y2="471.9" stroke-width="1.5" stroke-linecap="butt"/>
<line x1="458.1" y1="487.3" x2="458.1" y2="501.9" stroke-width="1.5" stroke-linecap="butt"/>
<line x1="453.85" y1="501.9" x2="462.35" y2="501.9" stroke-width="1.5" stroke-linecap="butt"/>
<polyline points="344.3,510.2 382,499.6 420,502.4 458.1,487.3 495.9,488.9" fill="none" stroke-width="1.35"/>
<polyline points="344.3,499.8 382,475.8 420,424 458.1,427.3 495.9,477.1" fill="none" stroke-width="1.35"/>
<circle cx="344.3" cy="499.8" r="3.35" fill="#fff" stroke-width="1.35"/>
<circle cx="382" cy="475.8" r="3.35" fill="#fff" stroke-width="1.35"/>
<circle cx="420" cy="424" r="3.35" fill="#fff" stroke-width="1.35"/>
<circle cx="458.1" cy="427.3" r="3.35" fill="#fff" stroke-width="1.35"/>
<circle cx="495.9" cy="477.1" r="3.35" fill="#fff" stroke-width="1.35"/>
<rect x="340.25" y="506.15" width="8.1" height="8.1" fill="#000" stroke="none"/>
<rect x="377.95" y="495.55" width="8.1" height="8.1" fill="#000" stroke="none"/>
<rect x="415.95" y="498.35" width="8.1" height="8.1" fill="#000" stroke="none"/>
<rect x="454.05" y="483.25" width="8.1" height="8.1" fill="#000" stroke="none"/>
<rect x="491.85" y="484.85" width="8.1" height="8.1" fill="#000" stroke="none"/>
<text x="420" y="547" font-size="12.2" text-anchor="middle" font-weight="bold" >Days of differentiation</text>
<text class="yl" transform="translate(309.4,452.45) rotate(-90)" x="0" y="0" font-size="12.1" text-anchor="middle" font-weight="bold" >% CD31<tspan font-size="9.5" dy="-5.8">+</tspan><tspan dy="5.8">Flk1<tspan font-size="9.5" dy="-5.8">+</tspan><tspan dy="5.8"> cells</tspan></tspan></text>
<text x="411.15" y="398.43" font-size="17" text-anchor="middle" font-weight="bold" >*</text>
<text x="419.05" y="398.43" font-size="17" text-anchor="middle" font-weight="bold" >*</text>
<text x="426.95" y="398.43" font-size="17" text-anchor="middle" font-weight="bold" >*</text>
<text x="454.1" y="409.33" font-size="17" text-anchor="middle" font-weight="bold" >*</text>
<text x="462" y="409.33" font-size="17" text-anchor="middle" font-weight="bold" >*</text>
<line x1="63.7" y1="584.22" x2="63.7" y2="710.8" stroke-width="1.8" stroke-linecap="butt"/>
<line x1="59.1" y1="710.8" x2="64.6" y2="710.8" stroke-width="1.8" stroke-linecap="butt"/>
<text x="58" y="713.86" font-size="10.2" text-anchor="end" font-weight="bold" class="tl">0.0</text>
<line x1="59.1" y1="696.83" x2="64.6" y2="696.83" stroke-width="1.8" stroke-linecap="butt"/>
<text x="58" y="699.89" font-size="10.2" text-anchor="end" font-weight="bold" class="tl">0.5</text>
<line x1="59.1" y1="682.87" x2="64.6" y2="682.87" stroke-width="1.8" stroke-linecap="butt"/>
<text x="58" y="685.93" font-size="10.2" text-anchor="end" font-weight="bold" class="tl">1.0</text>
<line x1="59.1" y1="668.9" x2="64.6" y2="668.9" stroke-width="1.8" stroke-linecap="butt"/>
<text x="58" y="671.96" font-size="10.2" text-anchor="end" font-weight="bold" class="tl">1.5</text>
<line x1="59.1" y1="654.94" x2="64.6" y2="654.94" stroke-width="1.8" stroke-linecap="butt"/>
<text x="58" y="658" font-size="10.2" text-anchor="end" font-weight="bold" class="tl">2.0</text>
<line x1="59.1" y1="640.97" x2="64.6" y2="640.97" stroke-width="1.8" stroke-linecap="butt"/>
<text x="58" y="644.03" font-size="10.2" text-anchor="end" font-weight="bold" class="tl">2.5</text>
<line x1="59.1" y1="627.01" x2="64.6" y2="627.01" stroke-width="1.8" stroke-linecap="butt"/>
<text x="58" y="630.07" font-size="10.2" text-anchor="end" font-weight="bold" class="tl">3.0</text>
<line x1="59.1" y1="613.04" x2="64.6" y2="613.04" stroke-width="1.8" stroke-linecap="butt"/>
<text x="58" y="616.1" font-size="10.2" text-anchor="end" font-weight="bold" class="tl">3.5</text>
<line x1="59.1" y1="599.08" x2="64.6" y2="599.08" stroke-width="1.8" stroke-linecap="butt"/>
<text x="58" y="602.14" font-size="10.2" text-anchor="end" font-weight="bold" class="tl">4.0</text>
<line x1="59.1" y1="585.12" x2="64.6" y2="585.12" stroke-width="1.8" stroke-linecap="butt"/>
<text x="58" y="588.17" font-size="10.2" text-anchor="end" font-weight="bold" class="tl">4.5</text>
<line x1="62.8" y1="710.8" x2="253.2" y2="710.8" stroke-width="1.8" stroke-linecap="butt"/>
<line x1="97.9" y1="710.8" x2="97.9" y2="714.8" stroke-width="1.8" stroke-linecap="butt"/>
<text x="96.8" y="722.8" font-size="10.1" text-anchor="middle" font-weight="bold" class="tl">Day 14</text>
<line x1="160.5" y1="710.8" x2="160.5" y2="714.8" stroke-width="1.8" stroke-linecap="butt"/>
<text x="159.4" y="722.8" font-size="10.1" text-anchor="middle" font-weight="bold" class="tl">Day 17</text>
<line x1="224" y1="710.8" x2="224" y2="714.8" stroke-width="1.8" stroke-linecap="butt"/>
<text x="222.9" y="722.8" font-size="10.1" text-anchor="middle" font-weight="bold" class="tl">Day 21</text>
<polyline points="95.4,711.6 158,700.2 221.4,658.8" fill="none" stroke-width="1.35"/>
<polyline points="95.4,708.4 158,666.4 221.4,595.1" fill="none" stroke-width="1.35"/>
<circle cx="95.4" cy="708.4" r="3.35" fill="#fff" stroke-width="1.35"/>
<circle cx="158" cy="666.4" r="3.35" fill="#fff" stroke-width="1.35"/>
<circle cx="221.4" cy="595.1" r="3.35" fill="#fff" stroke-width="1.35"/>
<rect x="91.35" y="707.55" width="8.1" height="3.25" fill="#000" stroke="none"/>
<rect x="153.95" y="696.15" width="8.1" height="8.1" fill="#000" stroke="none"/>
<rect x="217.35" y="654.75" width="8.1" height="8.1" fill="#000" stroke="none"/>
<text x="157.6" y="741.6" font-size="12.2" text-anchor="middle" font-weight="bold" >Days of differentiation</text>
<text class="yl" transform="translate(40.1,647.55) rotate(-90)" x="0" y="0" font-size="12" text-anchor="middle" font-weight="bold" >% CD34<tspan font-size="9.5" dy="-5.8">+</tspan><tspan dy="5.8">CD45<tspan font-size="9.5" dy="-5.8">+</tspan><tspan dy="5.8"> cells</tspan></tspan></text>
<line x1="330" y1="580.96" x2="330" y2="708.4" stroke-width="1.8" stroke-linecap="butt"/>
<line x1="325.4" y1="708.4" x2="330.9" y2="708.4" stroke-width="1.8" stroke-linecap="butt"/>
<text x="324.3" y="711.46" font-size="10.2" text-anchor="end" font-weight="bold" class="tl">0</text>
<line x1="325.4" y1="694.34" x2="330.9" y2="694.34" stroke-width="1.8" stroke-linecap="butt"/>
<text x="324.3" y="697.4" font-size="10.2" text-anchor="end" font-weight="bold" class="tl">10</text>
<line x1="325.4" y1="680.28" x2="330.9" y2="680.28" stroke-width="1.8" stroke-linecap="butt"/>
<text x="324.3" y="683.34" font-size="10.2" text-anchor="end" font-weight="bold" class="tl">20</text>
<line x1="325.4" y1="666.22" x2="330.9" y2="666.22" stroke-width="1.8" stroke-linecap="butt"/>
<text x="324.3" y="669.28" font-size="10.2" text-anchor="end" font-weight="bold" class="tl">30</text>
<line x1="325.4" y1="652.16" x2="330.9" y2="652.16" stroke-width="1.8" stroke-linecap="butt"/>
<text x="324.3" y="655.22" font-size="10.2" text-anchor="end" font-weight="bold" class="tl">40</text>
<line x1="325.4" y1="638.1" x2="330.9" y2="638.1" stroke-width="1.8" stroke-linecap="butt"/>
<text x="324.3" y="641.16" font-size="10.2" text-anchor="end" font-weight="bold" class="tl">50</text>
<line x1="325.4" y1="624.04" x2="330.9" y2="624.04" stroke-width="1.8" stroke-linecap="butt"/>
<text x="324.3" y="627.1" font-size="10.2" text-anchor="end" font-weight="bold" class="tl">60</text>
<line x1="325.4" y1="609.98" x2="330.9" y2="609.98" stroke-width="1.8" stroke-linecap="butt"/>
<text x="324.3" y="613.04" font-size="10.2" text-anchor="end" font-weight="bold" class="tl">70</text>
<line x1="325.4" y1="595.92" x2="330.9" y2="595.92" stroke-width="1.8" stroke-linecap="butt"/>
<text x="324.3" y="598.98" font-size="10.2" text-anchor="end" font-weight="bold" class="tl">80</text>
<line x1="325.4" y1="581.86" x2="330.9" y2="581.86" stroke-width="1.8" stroke-linecap="butt"/>
<text x="324.3" y="584.92" font-size="10.2" text-anchor="end" font-weight="bold" class="tl">90</text>
<rect x="347.8" y="638.1" width="23.3" height="69.4" fill="#fff" stroke-width="1.8"/>
<rect x="381.8" y="680.2" width="25.4" height="28.2" fill="#000" stroke="none"/>
<rect x="442.4" y="582.4" width="23.5" height="125.1" fill="#fff" stroke-width="1.8"/>
<rect x="476.8" y="640.8" width="25.1" height="67.6" fill="#000" stroke="none"/>
<line x1="329.1" y1="708.4" x2="520.5" y2="708.4" stroke-width="1.8" stroke-linecap="butt"/>
<line x1="377.1" y1="708.4" x2="377.1" y2="712.4" stroke-width="1.8" stroke-linecap="butt"/>
<text x="376.1" y="721.7" font-size="10.1" text-anchor="middle" font-weight="bold" class="tl">Day 17</text>
<line x1="472.3" y1="708.4" x2="472.3" y2="712.4" stroke-width="1.8" stroke-linecap="butt"/>
<text x="471.3" y="721.7" font-size="10.1" text-anchor="middle" font-weight="bold" class="tl">Day 21</text>
<text x="424" y="738.8" font-size="12.2" text-anchor="middle" font-weight="bold" >Days of differentiation</text>
<text class="yl" transform="translate(308.7,645.2) rotate(-90)" x="0" y="0" font-size="12.2" text-anchor="middle" font-weight="bold" >Colonies/10<tspan font-size="9.5" dy="-5.3" dx="0.6">5</tspan><tspan dy="5.3"> cells</tspan></text>
</svg>
</body></html>
